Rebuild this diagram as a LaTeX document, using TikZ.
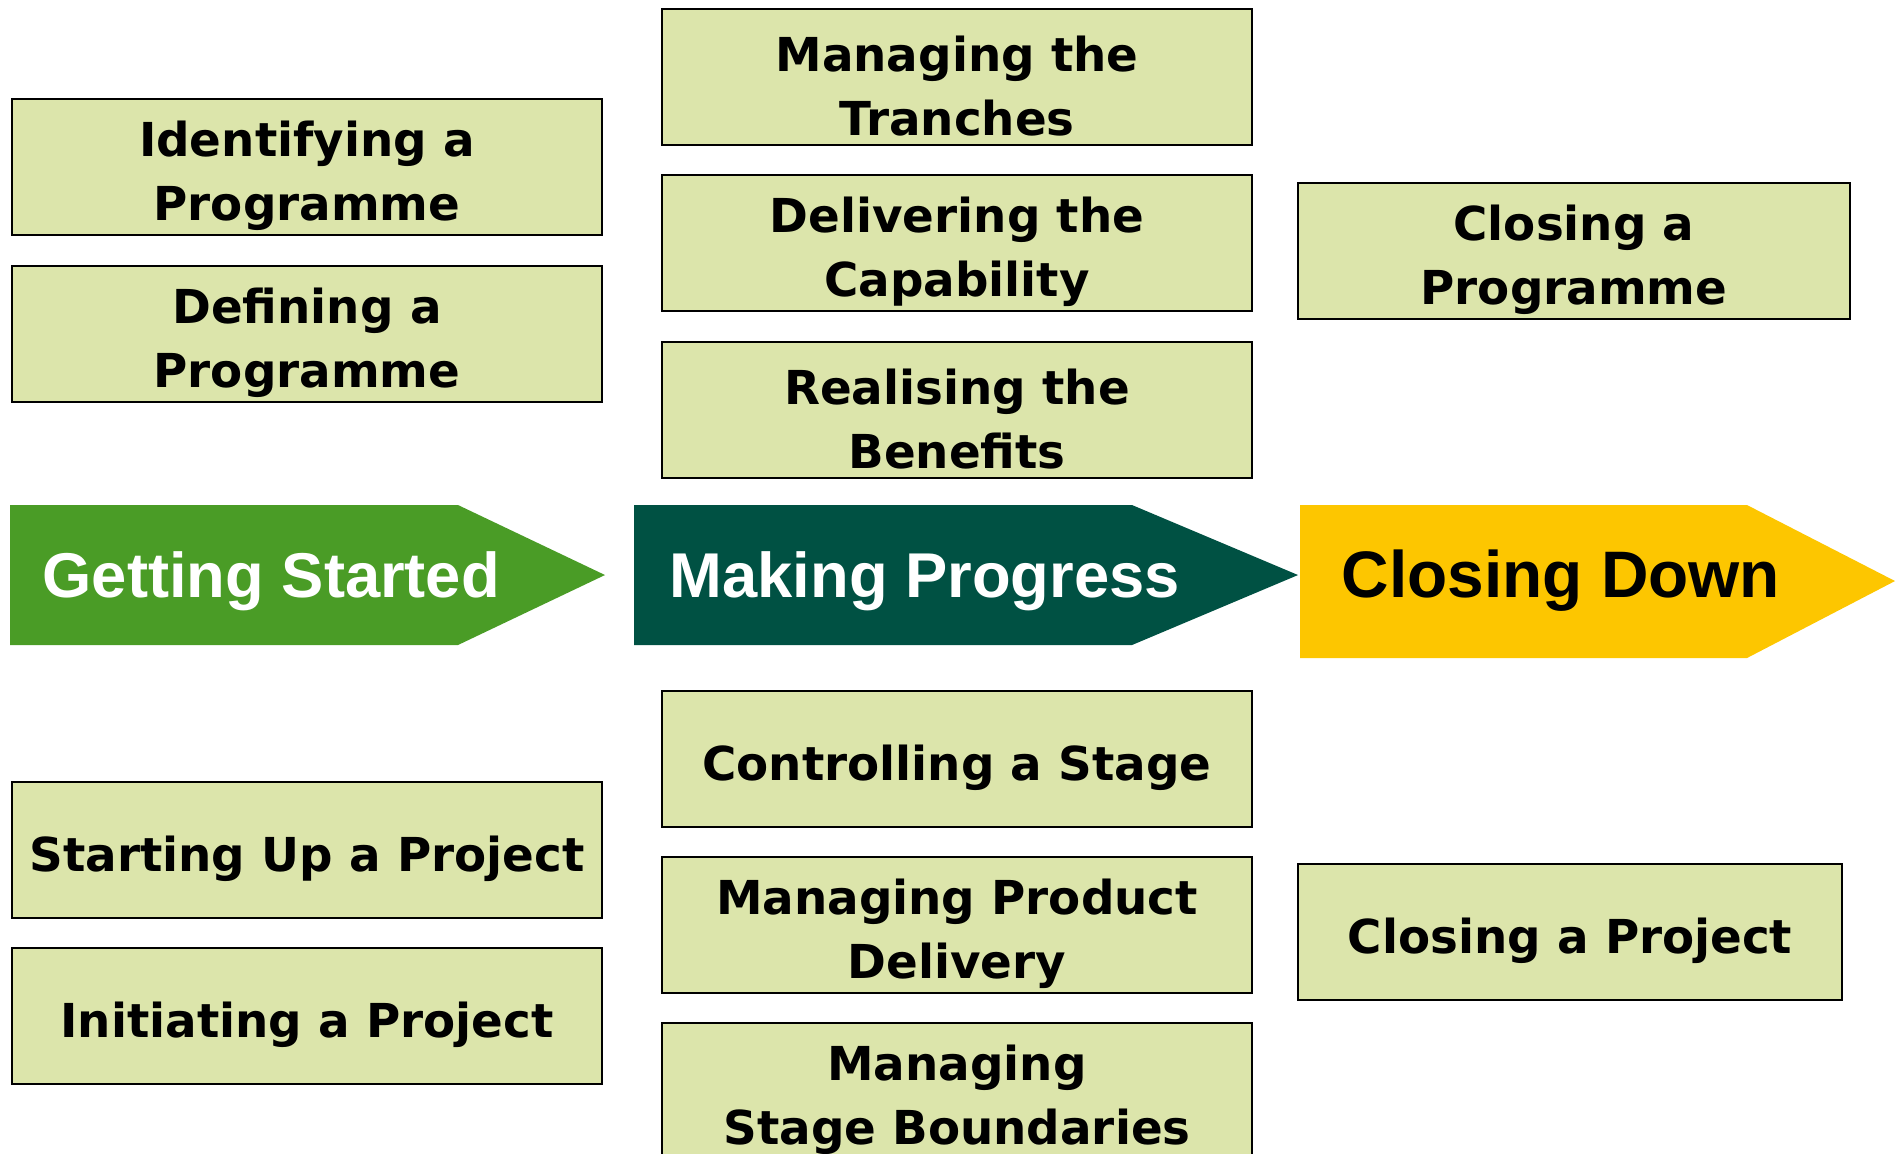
\documentclass[tikz,border=0pt]{standalone}
\usepackage{fontspec}
\setmainfont{DejaVu Sans}
\newfontfamily\stagefont{Liberation Sans}
\usetikzlibrary{positioning}
\definecolor{procfill}{HTML}{DCE5AB}
\definecolor{gsgreen}{HTML}{4A9C26}
\definecolor{mpgreen}{HTML}{005143}
\definecolor{cdyellow}{HTML}{FDC600}
% taller first line, sits the text a little lower in its box
\newcommand{\topstrut}{\rule{0pt}{15pt}}

\begin{document}
\begin{tikzpicture}[x=0.01cm,y=-0.01cm,
  proc/.style={draw=black,line width=0.6pt,fill=procfill,minimum width=5.9cm,
               minimum height=1.36cm,align=center,inner sep=0pt,
               font=\fontsize{13.3pt}{18.2pt}\selectfont\bfseries},
  stage/.style={font=\stagefont\fontsize{18pt}{21pt}\selectfont\bfseries,
                inner sep=0pt,anchor=base west}]

\useasboundingbox (0,0) rectangle (1898,1153);

% ---------------- the three stage arrows ------------------------------------
\fill[gsgreen]  (10,505) -- (458,505) -- (605,575) -- (458,645) -- (10,645) -- cycle;
\fill[mpgreen]  (634,505) -- (1132,505) -- (1298,575) -- (1132,645) -- (634,645) -- cycle;
\fill[cdyellow] (1300,505) -- (1747,505) -- (1895,581) -- (1747,658) -- (1300,658) -- cycle;
\node[stage,text=white] (getstarted) at (42,597) {Getting Started};
\node[stage,text=white] (makeprog) at (669,597) {Making Progress};
\node[stage,text=black,font=\stagefont\fontsize{18.7pt}{21pt}\selectfont\bfseries]
  (closedown) at (1341,597) {Closing Down};

% ---------------- left column: getting started ------------------------------
\node[proc,anchor=north] (idprog) at (307,98) {\topstrut Identifying a\\Programme};
\node[proc,anchor=north] (defprog) at (307,265) {\topstrut Defining a\\Programme};
\node[proc,anchor=north] (startup) at (307,781) {\topstrut Starting Up a Project};
\node[proc,anchor=north] (initiate) at (307,947) {\topstrut Initiating a Project};

% ---------------- middle column: making progress ----------------------------
\node[proc,anchor=north] (tranches) at (957,8) {\topstrut Managing the\\Tranches};
\node[proc,anchor=north] (capability) at (957,174) {\topstrut Delivering the\\Capability};
\node[proc,anchor=north] (benefits) at (957,341) {\topstrut Realising the\\Benefits};
\node[proc,anchor=north] (stagectl) at (957,690) {\topstrut Controlling a Stage};
\node[proc,anchor=north] (delivery) at (957,856) {\topstrut Managing Product\\Delivery};
\node[proc,anchor=north] (boundaries) at (957,1022) {\topstrut Managing\\Stage Boundaries};

% ---------------- right column: closing down --------------------------------
\node[proc,anchor=north,minimum width=5.52cm] (closeprog) at (1574,182) {\topstrut Closing a\\Programme};
\node[proc,anchor=north,minimum width=5.44cm] (closeproj) at (1570,863) {\topstrut Closing a Project};

\end{tikzpicture}
\end{document}
